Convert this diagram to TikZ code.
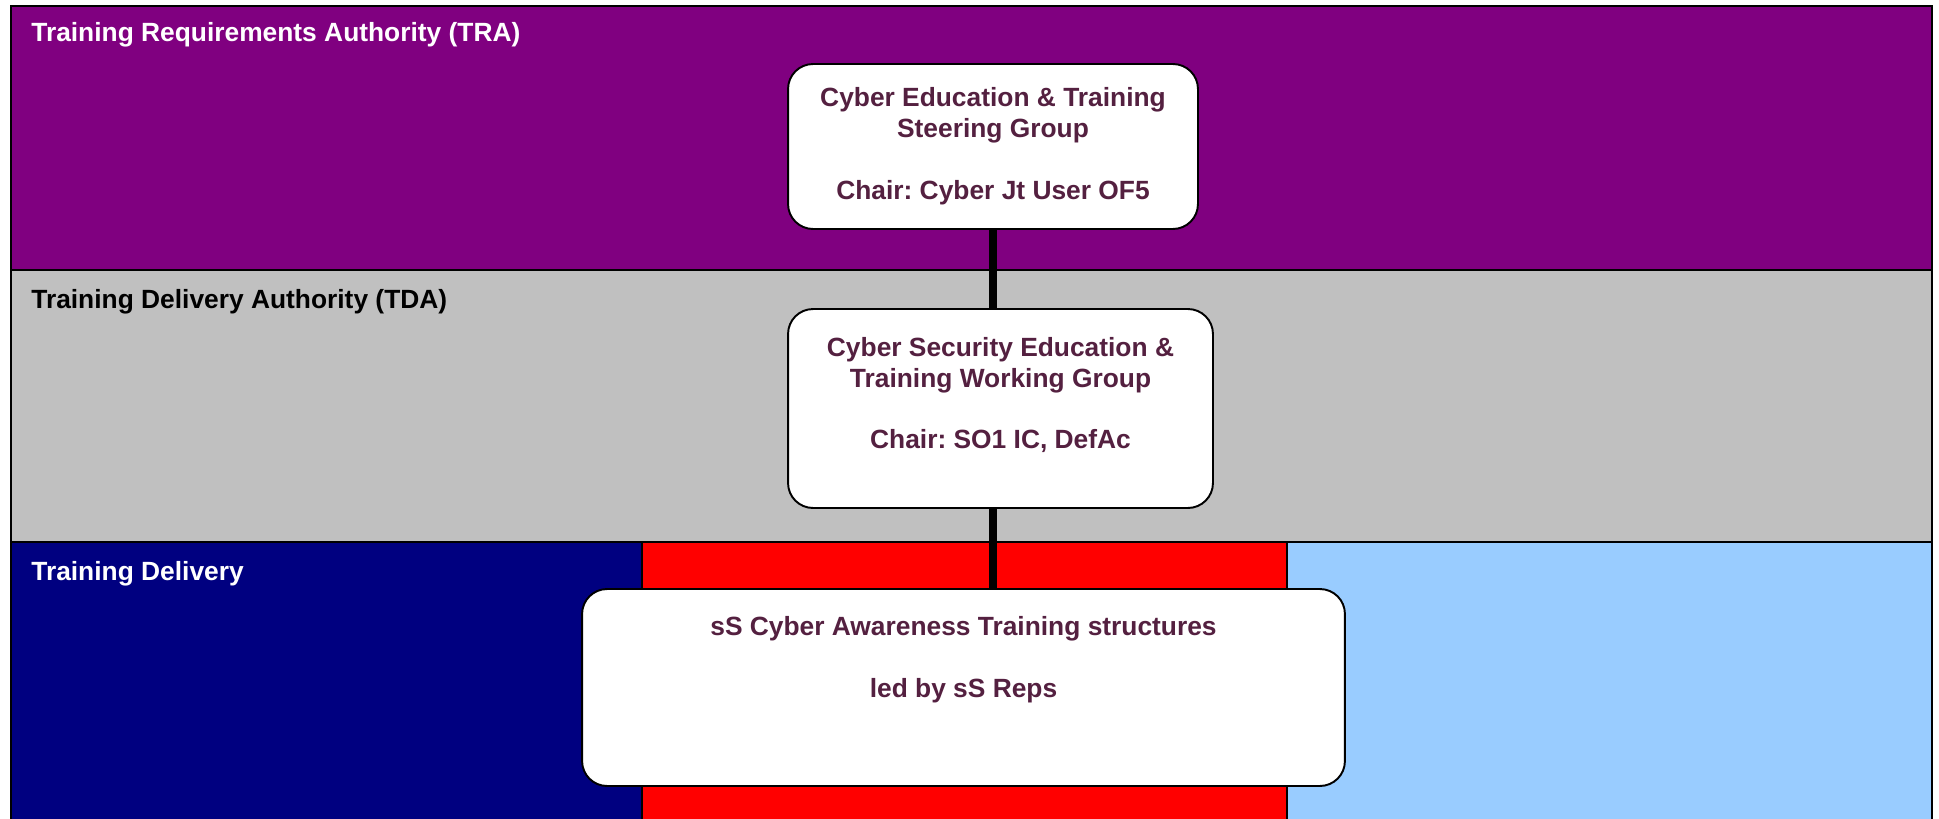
\documentclass[tikz,border=0pt]{standalone}
\usepackage{fontspec}
\setmainfont{Liberation Sans}
\usetikzlibrary{positioning}
\frenchspacing
\definecolor{traPurple}{RGB}{128,0,128}
\definecolor{tdaGrey}{RGB}{192,192,192}
\definecolor{tdNavy}{RGB}{0,0,128}
\definecolor{tdRed}{RGB}{255,0,0}
\definecolor{tdBlue}{RGB}{153,204,255}
\definecolor{boxText}{RGB}{84,32,64}
\tikzstyle{band} = [draw=black, line width=1pt]
\tikzstyle{bandlabel} = [anchor=west, inner sep=0pt, font=\fontsize{15}{17.6}\selectfont\bfseries]
\tikzstyle{group} = [rectangle, rounded corners=0.5cm, draw=black, line width=1.1pt, fill=white, text=boxText, align=center, inner sep=0pt, font=\fontsize{15}{17.6}\selectfont\bfseries]
\tikzstyle{link} = [line width=4.5pt]

\begin{document}
\begin{tikzpicture}[x=0.02cm, y=-0.02cm]
    \useasboundingbox (0,0) rectangle (1939,818);
    % authority bands
    \filldraw [band, fill=traPurple] (11,6) rectangle (1932,270);
    \filldraw [band, fill=tdaGrey] (11,270) rectangle (1932,542);
    \filldraw [band, fill=tdNavy] (11,542) rectangle (642,820);
    \filldraw [band, fill=tdRed] (642,542) rectangle (1287,820);
    \filldraw [band, fill=tdBlue] (1287,542) rectangle (1932,820);
    \node (tra) [bandlabel, text=white] at (31,35) {Training Requirements Authority (TRA)};
    \node (tda) [bandlabel, text=black] at (31,302) {Training Delivery Authority (TDA)};
    \node (td) [bandlabel, text=white] at (31,574) {Training Delivery};

    % groups
    \node (steer) [group, minimum width=8.2cm, minimum height=3.3cm] at (993,146.5)
        {Cyber Education \& Training\\Steering Group\\[17.6pt]Chair: Cyber Jt User OF5};
    \node (work) [group, minimum width=8.5cm, minimum height=3.98cm] at (1000.5,408.5)
        {Cyber Security Education \&\\Training Working Group\\[17.6pt]Chair: SO1 IC, DefAc\\\mbox{}};
    \node (aware) [group, minimum width=15.26cm, minimum height=3.94cm] at (963.5,687.5)
        {sS Cyber Awareness Training structures\\[17.6pt]led by sS Reps\\[17.6pt]\mbox{}};
    \draw [link] (steer.south) -- (steer.south |- work.north);
    \draw [link] (steer.south |- work.south) -- (steer.south |- aware.north);
\end{tikzpicture}
\end{document}
